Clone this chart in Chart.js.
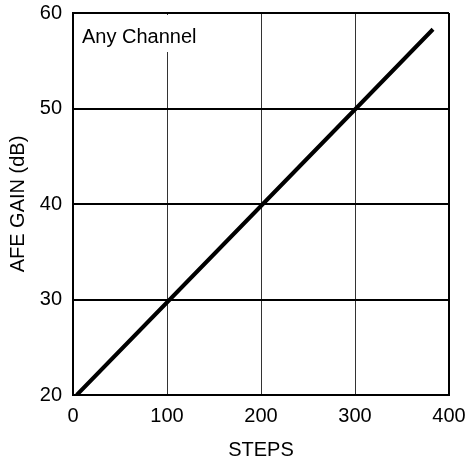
<!DOCTYPE html>
<html lang="en">
<head>
    <meta charset="UTF-8">
    <title>AFE Gain vs Steps</title>
    <script src="https://cdn.jsdelivr.net/npm/chart.js@4.4.1/dist/chart.umd.min.js"></script>
    <style>
        html, body { margin:0; padding:0; background:#fff; }
        #wrap { width:468px; height:462px; }
    </style>
</head>
<body>
    <div id="wrap"><canvas id="myChart" width="468" height="462"></canvas></div>
    <script>
        // values
        var steps = [4, 103, 202, 301, 383];
        var gain  = [20, 30, 40, 50, 58.3];
        var xTicks = [0, 100, 200, 300, 400];
        var yTicks = [20, 30, 40, 50, 60];
        var note = "Any Channel";

        var FONT = "'Liberation Sans', Arial, sans-serif";

        var v_points = steps.map(function(s, i){ return {x: s, y: gain[i]}; });

        // white box with the note, top-left of the plot
        var notePlugin = {
            id: "note",
            afterDraw: function(chart){
                var c = chart.ctx, a = chart.chartArea;
                c.save();
                c.fillStyle = "#fff";
                c.fillRect(a.left + 5, a.top + 2, 124, 37);
                c.fillStyle = "#000";
                c.font = "20px " + FONT;
                c.textBaseline = "alphabetic";
                c.fillText(note, a.left + 9, a.top + 30);
                c.restore();
            }
        };

        const ctx = document.getElementById("myChart").getContext("2d");
        const myChart = new Chart(ctx, {
            type: "scatter",
            data: {
                datasets: [{
                    data: v_points,
                    showLine: true,
                    borderColor: "#000",
                    borderWidth: 4,
                    pointRadius: 0,
                    tension: 0
                }]
            },
            options: {
                responsive: false,
                animation: false,
                layout: { padding: { top: 13, right: 19, left: 0, bottom: 0 } },
                plugins: { legend: { display: false }, tooltip: { enabled: false } },
                scales: {
                    x: {
                        type: "linear", min: 0, max: 400,
                        afterBuildTicks: function(s){ s.ticks = xTicks.map(function(v){ return {value: v}; }); },
                        afterFit: function(s){ s.height = 67; s.paddingLeft = 0; s.paddingRight = 0; },
                        ticks: { color: "#000", font: { family: FONT, size: 20 }, padding: 9, maxRotation: 0 },
                        grid: {
                            drawTicks: false,
                            color: function(c){ return (c.tick && (c.tick.value === 400 || c.tick.value === 0)) ? "#000" : "#333"; },
                            lineWidth: function(c){ return (c.tick && (c.tick.value === 400 || c.tick.value === 0)) ? 2 : 1; }
                        },
                        border: { color: "#000", width: 2 },
                        title: { display: true, text: "STEPS", color: "#000", font: { family: FONT, size: 20 }, padding: { top: 0, bottom: 0 } }
                    },
                    y: {
                        type: "linear", min: 20, max: 60,
                        afterBuildTicks: function(s){ s.ticks = yTicks.map(function(v){ return {value: v}; }); },
                        afterFit: function(s){ s.width = 73; s.paddingTop = 0; s.paddingBottom = 0; },
                        ticks: { color: "#000", font: { family: FONT, size: 20 }, padding: 11 },
                        grid: { drawTicks: false, color: "#000", lineWidth: 2 },
                        border: { color: "#000", width: 2 },
                        title: { display: true, text: "AFE GAIN (dB)", color: "#000", font: { family: FONT, size: 20 }, padding: { top: 6, bottom: 0 } }
                    }
                }
            },
            plugins: [notePlugin]
        });
    </script>
</body>
</html>
